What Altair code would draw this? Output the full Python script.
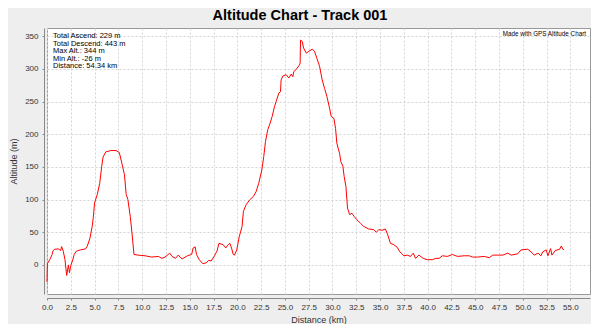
import altair as alt
import pandas as pd

distance_km = [0.0, 0.04, 0.29, 0.54, 0.64, 0.82, 1.18, 1.43, 1.54, 1.71, 1.89, 2.07, 2.25, 2.36, 2.5, 2.71, 2.86, 3.07, 3.5, 4.04, 4.21, 4.5, 4.75, 4.86, 5.0, 5.29, 5.54, 5.75, 5.89, 6.18, 6.71, 7.25, 7.6, 7.86, 8.14, 8.32, 8.5, 8.75, 8.93, 9.14, 9.57, 10.3, 11.0, 11.7, 12.07, 12.4, 12.9, 13.14, 13.5, 13.79, 14.2, 14.75, 15.2, 15.36, 15.57, 15.71, 16.0, 16.36, 16.71, 17.0, 17.25, 17.6, 17.86, 18.07, 18.5, 18.79, 19.04, 19.21, 19.39, 19.57, 19.7, 19.94, 20.2, 20.5, 20.64, 20.92, 21.27, 21.7, 21.97, 22.25, 22.57, 22.78, 22.96, 23.2, 23.38, 23.66, 23.9, 24.08, 24.36, 24.54, 24.6, 24.78, 25.13, 25.41, 25.66, 25.83, 25.94, 26.18, 26.53, 26.6, 26.64, 26.82, 26.96, 27.24, 27.52, 27.87, 28.11, 28.36, 28.64, 28.92, 29.17, 29.41, 29.69, 29.87, 30.15, 30.32, 30.46, 30.74, 30.88, 31.09, 31.23, 31.41, 31.58, 31.8, 32.04, 32.29, 32.57, 32.92, 33.27, 33.8, 34.33, 34.61, 34.86, 35.21, 35.56, 35.81, 36.09, 36.44, 36.8, 37.08, 37.5, 37.85, 38.2, 38.49, 38.73, 39.08, 39.54, 39.96, 40.49, 40.85, 41.2, 41.55, 42.08, 42.6, 43.13, 43.84, 44.37, 44.72, 45.25, 45.95, 46.48, 46.83, 47.36, 47.89, 48.42, 48.77, 49.47, 49.82, 50.52, 50.87, 51.2, 51.6, 51.9, 52.1, 52.46, 52.64, 52.92, 53.06, 53.41, 53.87, 54.05, 54.2, 54.34]
altitude_m = [-26, 2, 8, 16, 22, 24, 24.5, 22, 28, 21, 8, -16, 0, -12, -1, 8, 16, 21, 23, 24.5, 28, 40, 59, 72, 95, 108, 125, 151, 165, 173, 175, 175, 172, 156, 138, 108, 100, 74, 49, 16, 15, 14, 12, 13, 10, 12, 18, 13, 10, 15, 9, 14, 16, 26, 27.5, 16, 8, 2, 3, 7, 6, 14, 21, 33, 31, 26, 31, 33, 26, 16, 15, 23, 43, 59, 82, 92, 99, 105, 112, 125, 145, 166, 189, 207, 214, 227, 242, 250, 263, 265, 283, 289, 291, 286, 292, 288, 296, 299, 306, 309, 344, 342, 332, 324, 327, 330, 327, 316, 304, 283, 270, 258, 240, 227, 224, 209, 186, 171, 158, 151, 135, 120, 87, 77, 79, 74, 69, 64, 59, 55, 54, 50, 54, 53, 55, 46, 33, 31, 27, 20, 14, 15, 13, 18, 10, 15, 10, 8, 8, 10, 10, 14, 13, 16, 13, 14, 14, 12, 12, 13, 11, 15, 15, 15, 18, 15, 17, 23, 24, 20, 15, 18, 14, 20, 23, 14, 25, 15, 22, 24, 29, 24, 23]

x_ticks = [i * 2.5 for i in range(23)]
y_ticks = [0, 50, 100, 150, 200, 250, 300, 350]
title_text = "Altitude Chart - Track 001"
stats_lines = ["Total Ascend: 229 m", "Total Descend: 443 m", "Max Alt.: 344 m", "Min Alt.: -26 m", "Distance: 54.34 km"]
credit_text = "Made with GPS Altitude Chart"

df = pd.DataFrame({"d": distance_km, "a": altitude_m})

FONT = "Liberation Sans"

line = alt.Chart(df).mark_line(color="#FF0000", strokeWidth=1, interpolate="linear").encode(
    x=alt.X("d:Q", scale=alt.Scale(domain=[0, 57.06], nice=False, zero=False),
            axis=alt.Axis(values=x_ticks, format=".1f", title="Distance (km)", offset=4,
                          labelFontSize=8, titleFontSize=9, titleFontWeight="normal",
                          tickSize=2, labelPadding=3, titlePadding=4,
                          grid=True, gridDash=[2, 2], gridColor="#d4d4d4",
                          domainColor="#8a8a8a", tickColor="#8a8a8a",
                          labelColor="#333333", titleColor="#333333", labelFlush=False)),
    y=alt.Y("a:Q", scale=alt.Scale(domain=[-44.5, 362.5], nice=False, zero=False),
            axis=alt.Axis(values=y_ticks, title="Altitude (m)", offset=3,
                          labelFontSize=8, titleFontSize=9, titleFontWeight="normal",
                          tickSize=2, labelPadding=4, titlePadding=6,
                          grid=True, gridDash=[2, 2], gridColor="#d4d4d4",
                          domainColor="#8a8a8a", tickColor="#8a8a8a",
                          labelColor="#333333", titleColor="#333333")),
)

title = alt.Chart(pd.DataFrame({"t": [title_text]})).mark_text(
    font=FONT, fontSize=14.5, fontWeight="bold", color="#000000", align="center", baseline="alphabetic"
).encode(x=alt.value(253), y=alt.value(-8), text="t:N")

stats = alt.Chart(pd.DataFrame({"t": [stats_lines]})).mark_text(
    font=FONT, fontSize=7.5, color="#000000", align="left", baseline="middle", lineHeight=7.5
).encode(x=alt.value(6), y=alt.value(8), text="t")

credit = alt.Chart(pd.DataFrame({"t": [credit_text]})).mark_text(
    font=FONT, fontSize=6.3, color="#000000", align="right", baseline="middle"
).encode(x=alt.value(539), y=alt.value(6), text="t:N")

chart = alt.layer(line, title, stats, credit).properties(
    width=543, height=266, background="#EEEEEE",
    autosize=alt.AutoSizeParams(type="none"),
    padding={"left": 39, "top": 20, "right": 1, "bottom": 30},
).configure_view(stroke="#999999", strokeWidth=1, fill="#FFFFFF").configure_axis(
    labelFont=FONT, titleFont=FONT
)

chart.save("out.html", embed_options={"renderer": "svg", "actions": False})
